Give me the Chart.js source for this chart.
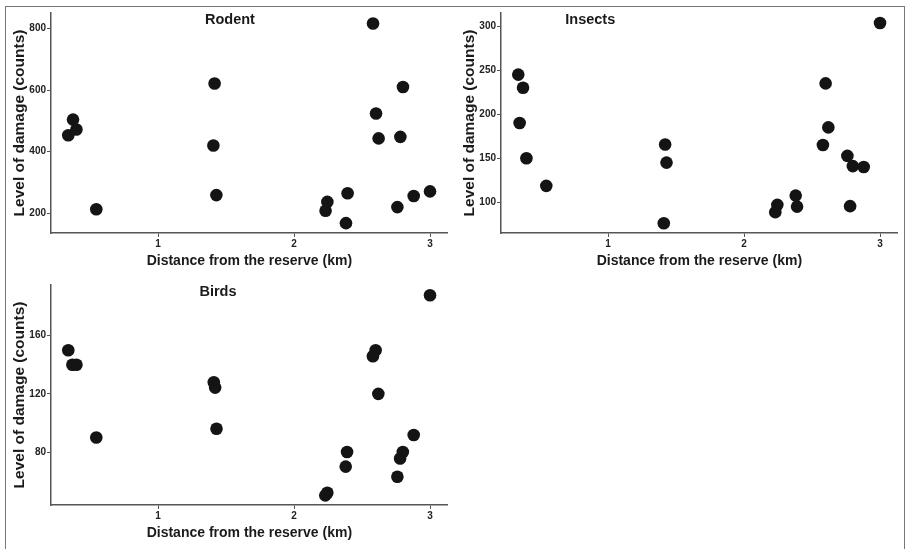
<!DOCTYPE html>
<html>
<head>
<meta charset="utf-8">
<script src="https://cdn.jsdelivr.net/npm/chart.js@4"></script>
<style>
  body { margin: 0; background: #fff; }
  #wrap { position: relative; width: 908px; height: 549px; overflow: hidden; }
  #frame { position: absolute; left: 5px; top: 6px; width: 900px; height: 560px;
           border: 1.5px solid #777; box-sizing: border-box; }
  .panel { position: absolute; width: 454px; height: 272px; }
</style>
</head>
<body>
<div id="wrap">
  <div id="frame"></div>
  <div class="panel" style="left:0;top:0"><canvas id="rodentChart" width="454" height="272"></canvas></div>
  <div class="panel" style="left:450px;top:0"><canvas id="insectChart" width="454" height="272"></canvas></div>
  <div class="panel" style="left:0;top:272px"><canvas id="birdChart" width="454" height="272"></canvas></div>
</div>
<script>
// distance from the reserve (km) and damage counts
const rodentX = [0.34, 0.375, 0.40, 0.546, 1.416, 1.407, 1.429, 2.232, 2.245, 2.382, 2.394, 2.581, 2.603, 2.622, 2.801, 2.782, 2.760, 2.88, 3.0];
const rodentY = [453, 504, 472, 213, 621, 420, 259, 208, 237, 168, 265, 816, 524, 443, 610, 448, 220, 256, 271];

const insectX = [0.34, 0.375, 0.35, 0.40, 0.546, 1.42, 1.43, 1.41, 2.23, 2.245, 2.38, 2.39, 2.58, 2.60, 2.62, 2.76, 2.80, 2.88, 2.78, 3.0];
const insectY = [245, 230, 190, 150, 118.6, 165.5, 145, 76, 88.7, 97, 107.5, 95, 165, 235, 185, 152.6, 141, 140, 95.5, 303.7];

const birdX = [0.34, 0.37, 0.40, 0.546, 1.41, 1.42, 1.43, 2.23, 2.245, 2.38, 2.39, 2.58, 2.60, 2.62, 2.76, 2.78, 2.80, 2.88, 3.0];
const birdY = [150, 140, 140, 90, 128, 124.3, 96, 50.2, 52, 70, 80, 145.8, 150, 120, 63, 75.6, 80, 91.7, 187.8];

const xTicks = [1, 2, 3];
const rodentTicks = [200, 400, 600, 800];
const insectTicks = [100, 150, 200, 250, 300];
const birdTicks = [80, 120, 160];

const FONT = "'Liberation Sans', Arial, sans-serif";

// draws the panel name inside the plot area, ggplot annotate style
const panelTitle = {
  id: "panelTitle",
  afterDraw(chart, args, opts) {
    const { ctx, chartArea } = chart;
    ctx.save();
    ctx.font = "bold 14.5px " + FONT;
    ctx.fillStyle = "#1a1a1a";
    ctx.textAlign = "center";
    ctx.textBaseline = "alphabetic";
    ctx.fillText(opts.text, chartArea.left + opts.frac * (chartArea.right - chartArea.left), chartArea.top + 10.6);
    ctx.restore();
  }
};

function toPoints(xs, ys) {
  return xs.map((x, i) => ({ x: x, y: ys[i] }));
}

function renderPanel(canvasId, xs, ys, yTicks, yMin, yMax, title, frac) {
  const ctx = document.getElementById(canvasId).getContext("2d");
  return new Chart(ctx, {
    type: "scatter",
    data: {
      datasets: [{
        data: toPoints(xs, ys),
        backgroundColor: "#141414",
        borderColor: "#141414",
        borderWidth: 0,
        pointRadius: 6.3
      }]
    },
    options: {
      responsive: false,
      animation: false,
      layout: { padding: { top: 13, right: 6, left: 0, bottom: 0 } },
      plugins: {
        legend: { display: false },
        tooltip: { enabled: false },
        panelTitle: { text: title, frac: frac }
      },
      scales: {
        x: {
          type: "linear",
          min: 0.213,
          max: 3.13,
          afterBuildTicks: s => { s.ticks = xTicks.map(v => ({ value: v })); },
          afterFit: s => { s.height = 39; },
          grid: { display: true, drawOnChartArea: false, drawTicks: true, tickLength: 4, color: "#555", lineWidth: 1 },
          border: { display: true, color: "#555", width: 1.5 },
          ticks: { color: "#222", padding: 1.5, font: { family: FONT, size: 10, weight: "bold" } },
          title: {
            display: true,
            text: "Distance from the reserve (km)",
            color: "#1a1a1a",
            padding: { top: 0, bottom: 2.5 },
            font: { family: FONT, size: 14, weight: "bold" }
          }
        },
        y: {
          type: "linear",
          min: yMin,
          max: yMax,
          afterBuildTicks: s => { s.ticks = yTicks.map(v => ({ value: v })); },
          afterFit: s => { s.width = 51; },
          grid: { display: true, drawOnChartArea: false, drawTicks: true, tickLength: 4, color: "#555", lineWidth: 1 },
          border: { display: true, color: "#555", width: 1.5 },
          ticks: { color: "#222", padding: 1, font: { family: FONT, size: 10, weight: "bold" } },
          title: {
            display: true,
            text: "Level of damage (counts)",
            color: "#1a1a1a",
            padding: { top: 10, bottom: 0 },
            font: { family: FONT, size: 15.5, weight: "bold" }
          }
        }
      }
    },
    plugins: [panelTitle]
  });
}

renderPanel("rodentChart", rodentX, rodentY, rodentTicks, 136, 850, "Rodent", 0.451);
renderPanel("insectChart", insectX, insectY, insectTicks, 65, 315, "Insects", 0.225);
renderPanel("birdChart", birdX, birdY, birdTicks, 43.6, 194.8, "Birds", 0.421);
</script>
</body>
</html>
